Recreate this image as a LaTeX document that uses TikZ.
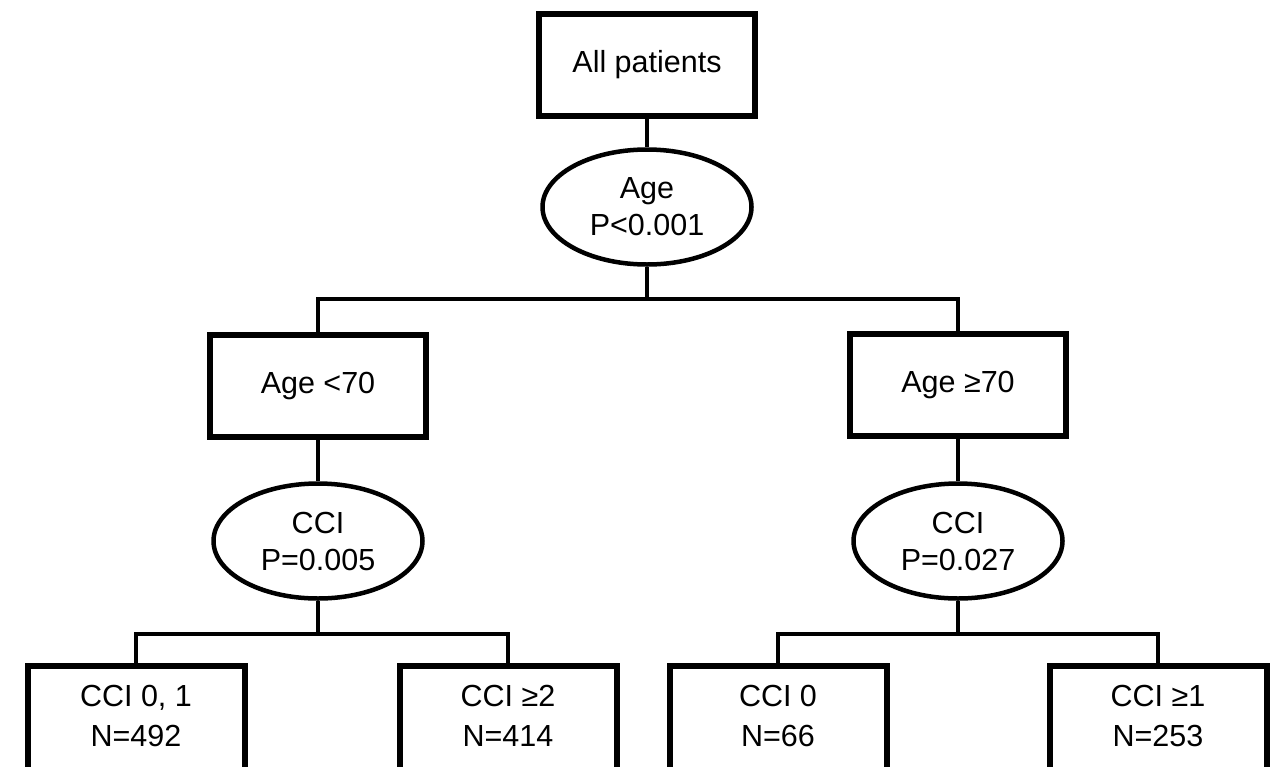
\documentclass[tikz,border=0pt]{standalone}
\usepackage{fontspec}
\setmainfont{Liberation Sans}
\usetikzlibrary{shapes.geometric}
\begin{document}
\begin{tikzpicture}[x=1pt,y=-1pt,
  txt/.style={font=\fontsize{30.5}{37}\selectfont, align=center, inner sep=0pt},
  box/.style={txt, draw, rectangle, line width=6pt, minimum width=216pt, minimum height=102pt},
  oval/.style={txt, draw, ellipse, line width=4.5pt, minimum width=209pt, minimum height=115pt},
  leaf/.style={draw, rectangle, line width=6pt, minimum width=217pt, minimum height=140pt, inner sep=0pt},
  leaftext/.style={font=\fontsize{30.5}{40}\selectfont, align=center, inner sep=0pt},
  conn/.style={line width=3.5pt}]
\useasboundingbox (0,0) rectangle (1274,766);
\fill[white] (0,0) rectangle (1274,766);

\node[box] (root) at (647,65) {All patients};
\node[oval] (age) at (647,207) {Age\\P<0.001};
\node[box] (young) at (318,386) {Age <70};
\node[box] (old) at (958,385) {Age ≥70};
\node[oval] (ccil) at (318,541) {CCI\\P=0.005};
\node[oval] (ccir) at (958,541) {CCI\\P=0.027};

\node[leaf, anchor=north] (l1) at (136,663) {};
\node[leaf, anchor=north] (l2) at (508,663) {};
\node[leaf, anchor=north] (l3) at (778,663) {};
\node[leaf, anchor=north] (l4) at (1158,663) {};
\node[leaftext] (t1) at (136,716) {CCI 0, 1\\N=492};
\node[leaftext] (t2) at (508,716) {CCI ≥2\\N=414};
\node[leaftext] (t3) at (778,716) {CCI 0\\N=66};
\node[leaftext] (t4) at (1158,716) {CCI ≥1\\N=253};

\coordinate (j1) at (647,299);
\coordinate (j2) at (318,634);
\coordinate (j3) at (958,634);

\draw[conn] (root.south) -- (age.north);
\draw[conn] (age.south) -- (j1);
\draw[conn] (young.north) |- (j1) -| (old.north);
\draw[conn] (young.south) -- (ccil.north);
\draw[conn] (old.south) -- (ccir.north);
\draw[conn] (ccil.south) -- (j2);
\draw[conn] (l1.north) |- (j2) -| (l2.north);
\draw[conn] (ccir.south) -- (j3);
\draw[conn] (l3.north) |- (j3) -| (l4.north);
\end{tikzpicture}
\end{document}
